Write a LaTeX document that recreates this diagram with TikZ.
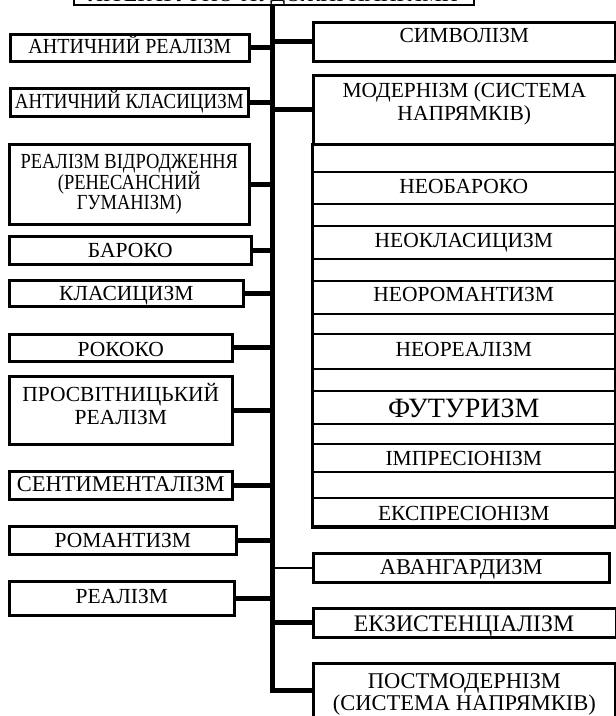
\documentclass[tikz,border=0pt]{standalone}
\usepackage{graphicx}
\usepackage{fontspec}
\setmainfont{Liberation Serif}
\newcommand\sx[2]{\scalebox{#1}[1]{#2}}
\begin{document}
\begin{tikzpicture}[x=1pt,y=-1pt,
  box/.style={draw, line width=2.6pt, inner sep=0pt, anchor=north west},
  rowbox/.style={draw, line width=1.6pt, inner sep=0pt, anchor=north west},
  lbl/.style={inner sep=0pt, anchor=base, font=\fontsize{21.5}{23}\selectfont},
  conn/.style={line width=5pt},
  thinconn/.style={line width=2.5pt},
]
\useasboundingbox (0,0) rectangle (616,716);

% title (mostly cut off at the top)
\node[draw, line width=2pt, inner sep=0pt, anchor=south west, minimum width=400pt, minimum height=40pt] (title) at (73,6) {};
\node[lbl, font=\fontsize{22}{24}\selectfont] (titletxt) at (273,1.5) {ЛІТЕРАТУРНО-ХУДОЖНІ НАПРЯМИ};

% left boxes
\node[box, minimum width=239pt, minimum height=27pt] (antr) at (9,33) {};
\node[lbl] (antrt) at (antr.center |- 0,53.5) {\sx{0.93}{АНТИЧНИЙ РЕАЛІЗМ}};
\node[box, minimum width=238pt, minimum height=28pt] (antk) at (9,87) {};
\node[lbl] (antkt) at (antk.center |- 0,108) {\sx{0.88}{АНТИЧНИЙ КЛАСИЦИЗМ}};
\node[box, minimum width=240pt, minimum height=80pt] (renes) at (8,143) {};
\node[lbl] (renest1) at (renes.center |- 0,168) {\sx{0.86}{РЕАЛІЗМ ВІДРОДЖЕННЯ}};
\node[lbl] (renest2) at (renes.center |- 0,189) {\sx{0.86}{(РЕНЕСАНСНИЙ}};
\node[lbl] (renest3) at (renes.center |- 0,209) {\sx{0.86}{ГУМАНІЗМ)}};
\node[box, minimum width=242pt, minimum height=28pt] (baroko) at (8,235) {};
\node[lbl] (barokot) at (baroko.center |- 0,257) {БАРОКО};
\node[box, minimum width=234pt, minimum height=26pt] (klas) at (8,279) {};
\node[lbl] (klast) at (klas.center |- 0,300) {КЛАСИЦИЗМ};
\node[box, minimum width=223pt, minimum height=27pt] (rokoko) at (8,333) {};
\node[lbl] (rokokot) at (rokoko.center |- 0,356) {РОКОКО};
\node[box, minimum width=223pt, minimum height=68pt] (prosv) at (8,375) {};
\node[lbl] (prosvt1) at (prosv.center |- 0,401) {ПРОСВІТНИЦЬКИЙ};
\node[lbl] (prosvt2) at (prosv.center |- 0,424) {РЕАЛІЗМ};
\node[box, minimum width=223pt, minimum height=28pt] (sent) at (8,470) {};
\node[lbl, font=\fontsize{22.5}{24}\selectfont] (sentt) at (sent.center |- 0,491.5) {СЕНТИМЕНТАЛІЗМ};
\node[box, minimum width=227pt, minimum height=28pt] (roman) at (8,525) {};
\node[lbl] (romant) at (roman.center |- 0,547) {РОМАНТИЗМ};
\node[box, minimum width=225pt, minimum height=34pt] (real) at (8,580) {};
\node[lbl] (realt) at (real.center |- 0,603) {РЕАЛІЗМ};

% right side
\node[box, minimum width=302pt, minimum height=39pt] (symv) at (312,21) {};
\node[lbl] (symvt) at (symv.center |- 0,42) {СИМВОЛІЗМ};

\node[draw, line width=2.4pt, inner sep=0pt, anchor=north west, minimum width=302pt, minimum height=382pt] (frame) at (312,143) {};
\node[rowbox, minimum width=302pt, minimum height=32pt] (r1) at (312,171) {};
\node[lbl] (r1t) at (r1.center |- 0,193) {НЕОБАРОКО};
\node[rowbox, minimum width=302pt, minimum height=33pt] (r2) at (312,225) {};
\node[lbl] (r2t) at (r2.center |- 0,247) {НЕОКЛАСИЦИЗМ};
\node[rowbox, minimum width=302pt, minimum height=33pt] (r3) at (312,280) {};
\node[lbl] (r3t) at (r3.center |- 0,301) {НЕОРОМАНТИЗМ};
\node[rowbox, minimum width=302pt, minimum height=35pt] (r4) at (312,333) {};
\node[lbl] (r4t) at (r4.center |- 0,356) {НЕОРЕАЛІЗМ};
\node[rowbox, minimum width=302pt, minimum height=33pt] (r5) at (312,390) {};
\node[lbl, font=\fontsize{28}{30}\selectfont] (r5t) at (r5.center |- 0,417) {ФУТУРИЗМ};
\node[rowbox, minimum width=302pt, minimum height=28pt] (r6) at (312,443) {};
\node[lbl] (r6t) at (r6.center |- 0,465) {ІМПРЕСІОНІЗМ};
\node[rowbox, minimum width=302pt, minimum height=28pt] (r7) at (312,497) {};
\node[lbl] (r7t) at (r7.center |- 0,520) {ЕКСПРЕСІОНІЗМ};
\draw[line width=2.4pt] (frame.north west) -- (frame.south west) -- (frame.south east);

\node[box, minimum width=302pt, minimum height=69pt] (modern) at (312,74) {};
\node[lbl] (modernt1) at (modern.center |- 0,97) {МОДЕРНІЗМ (СИСТЕМА};
\node[lbl] (modernt2) at (modern.center |- 0,120) {НАПРЯМКІВ)};

\node[box, minimum width=296pt, minimum height=29pt] (avang) at (312,552) {};
\node[lbl, font=\fontsize{22.5}{24}\selectfont] (avangt) at (avang.center |- 0,574.5) {АВАНГАРДИЗМ};
\node[box, minimum width=303pt, minimum height=29pt] (exist) at (312,607) {};
\node[lbl, font=\fontsize{23.7}{25}\selectfont] (existt) at (464,631) {ЕКЗИСТЕНЦІАЛІЗМ};
\node[box, minimum width=302pt, minimum height=80pt] (postm) at (312,662) {};
\node[lbl, font=\fontsize{22.5}{24}\selectfont] (postmt1) at (postm.center |- 0,688) {ПОСТМОДЕРНІЗМ};
\node[lbl, font=\fontsize{22.5}{24}\selectfont] (postmt2) at (postm.center |- 0,710) {(СИСТЕМА НАПРЯМКІВ)};

% spine and connectors
\coordinate (stop) at (272.5,6);
\coordinate (sbot) at (272.5,690);
\draw[conn] (stop) -- (sbot) -- (sbot -| postm.west);
\foreach \n in {antr,antk,renes,baroko,klas,rokoko,prosv,sent,roman,real}
  \draw[conn] (\n.east) -- (\n.east -| stop);
\foreach \n in {symv,modern,exist}
  \draw[conn] (\n.west -| stop) -- (\n.west);
\draw[thinconn] (avang.west -| stop) -- (avang.west);
\end{tikzpicture}
\end{document}
